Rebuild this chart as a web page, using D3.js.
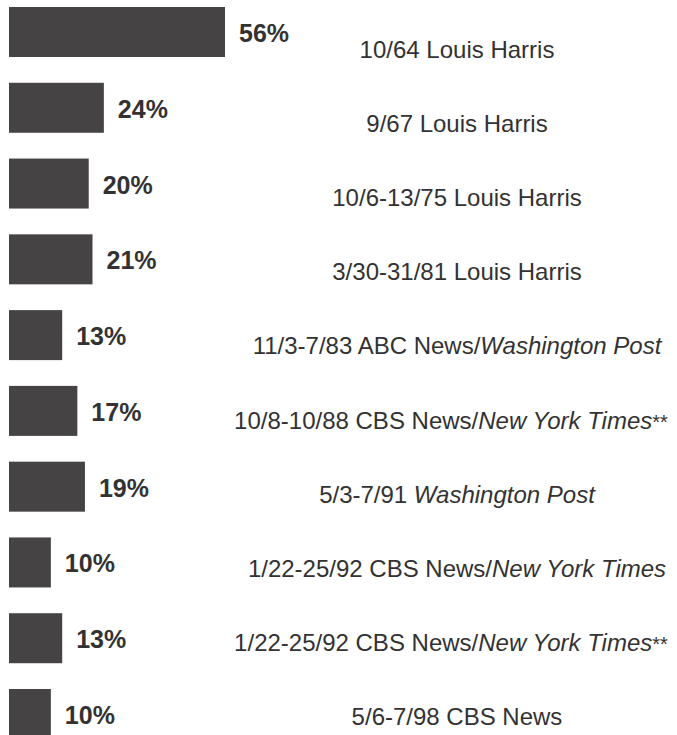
<!DOCTYPE html>
<html>
<head>
<meta charset="utf-8">
<script src="https://cdn.jsdelivr.net/npm/d3@7"></script>
<style>
  html, body { margin: 0; padding: 0; background: #ffffff; }
  svg { display: block; }
  text { font-family: Arial, "Liberation Sans", Helvetica, sans-serif; fill: #333233; }
</style>
</head>
<body>
<script>
// ---- Data ----
const categories = ["10/64", "9/67", "10/6-13/75", "3/30-31/81", "11/3-7/83", "10/8-10/88", "5/3-7/91", "1/22-25/92 a", "1/22-25/92 b", "5/6-7/98"];
const values = [56, 24, 20, 21, 13, 17, 19, 10, 13, 10];
const valueLabels = ["56%", "24%", "20%", "21%", "13%", "17%", "19%", "10%", "13%", "10%"];
const labelRoman = ["10/64 Louis Harris", "9/67 Louis Harris", "10/6-13/75 Louis Harris", "3/30-31/81 Louis Harris", "11/3-7/83 ABC News/", "10/8-10/88 CBS News/", "5/3-7/91 ", "1/22-25/92 CBS News/", "1/22-25/92 CBS News/", "5/6-7/98 CBS News"];
const labelItalic = ["", "", "", "", "Washington Post", "New York Times", "Washington Post", "New York Times", "New York Times", ""];
const labelNote = ["", "", "", "", "", "**", "", "", "**", ""];

// ---- Layout ----
const W = 677, H = 735;
const svg = d3.select("body").append("svg").attr("width", W).attr("height", H);

const x = d3.scaleLinear().domain([0, 56]).range([13, 225]);
const barLeft = 9;
const yBar = d3.scalePoint().domain(categories).range([7, 689]);
const barH = 50;
const yLab = d3.scalePoint().domain(categories).range([58, 725]);
const labelCenter = 457;

const rows = categories.map((c, i) => ({ c, v: values[i], vl: valueLabels[i], r: labelRoman[i], it: labelItalic[i], n: labelNote[i] }));

svg.append("g").selectAll("rect").data(rows).join("rect")
  .attr("x", barLeft)
  .attr("y", d => yBar(d.c))
  .attr("width", d => x(d.v) - barLeft)
  .attr("height", barH)
  .attr("fill", "#464344");

svg.append("g").selectAll("text").data(rows).join("text")
  .attr("x", d => x(d.v) + 14)
  .attr("y", d => yBar(d.c) + 35)
  .attr("font-size", 25)
  .attr("font-weight", "bold")
  .text(d => d.vl);

const lab = svg.append("g").selectAll("text").data(rows).join("text")
  .attr("x", d => labelCenter + (d.n ? -6 : 0))
  .attr("y", d => yLab(d.c))
  .attr("text-anchor", "middle")
  .attr("font-size", 24);
lab.append("tspan").text(d => d.r);
lab.append("tspan").attr("font-style", "italic").text(d => d.it);
lab.filter(d => d.n).append("tspan").attr("font-size", 20).text(d => d.n);
</script>
</body>
</html>
